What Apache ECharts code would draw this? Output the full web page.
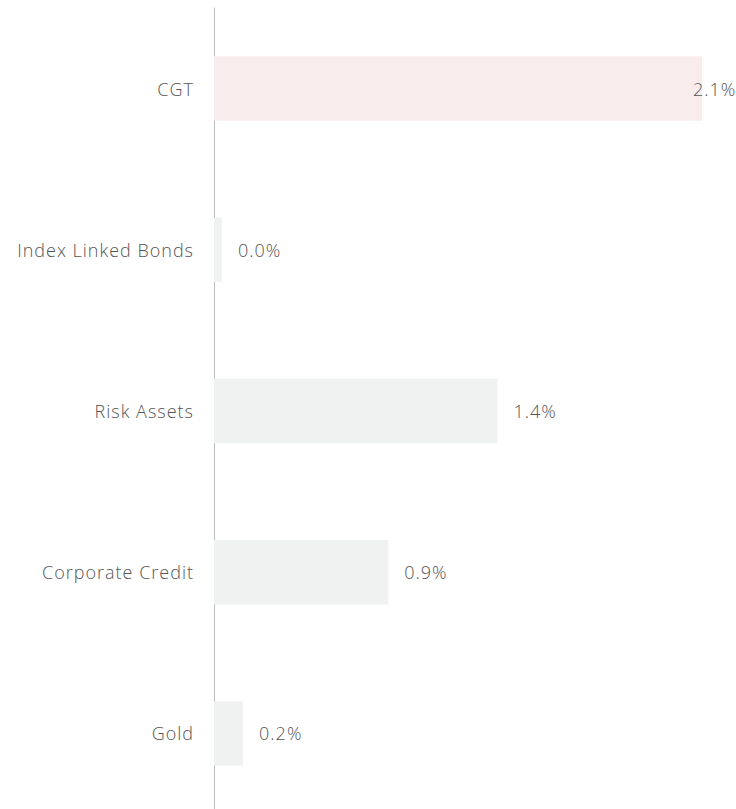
<!DOCTYPE html>
<html>
<head>
<meta charset="utf-8">
<style>html,body{margin:0;padding:0;background:#fff;overflow:hidden;}#c{width:736px;height:820px;}#c text{letter-spacing:1px;}</style>
<script src="https://cdn.jsdelivr.net/npm/echarts@6/dist/echarts.min.js"></script>
</head>
<body>
<div id="c"></div>
<script>
var categories = ['CGT', 'Index Linked Bonds', 'Risk Assets', 'Corporate Credit', 'Gold'];
var barValues = [2.1, 0.034, 1.22, 0.75, 0.125];
var valueLabels = ['2.1%', '0.0%', '1.4%', '0.9%', '0.2%'];
var barColors = ['#f8ecec', '#f0f2f1', '#f0f2f1', '#f0f2f1', '#f0f2f1'];

var chart = echarts.init(document.getElementById('c'), null, { renderer: 'svg' });
var data = barValues.map(function (v, i) {
  var item = { value: v, itemStyle: { color: barColors[i] } };
  if (i === 0) item.label = { offset: [-25, 0] };
  return item;
});
chart.setOption({
  animation: false,
  grid: { left: 214, right: 34, top: 8, bottom: 6, containLabel: false },
  xAxis: { type: 'value', min: 0, max: 2.1, show: false },
  yAxis: {
    type: 'category', data: categories, inverse: true, offset: 1,
    axisLine: { show: true, lineStyle: { color: '#b9bdbc', width: 1 } },
    axisTick: { show: false },
    axisLabel: { margin: 19, color: '#555555', fontSize: 18, fontWeight: 300, fontFamily: 'Open Sans' }
  },
  series: [{
    type: 'bar', data: data, barWidth: '40%',
    label: {
      show: true, position: 'right', distance: 16,
      color: '#555555', fontSize: 18, fontWeight: 300, fontFamily: 'Open Sans',
      formatter: function (p) { return valueLabels[p.dataIndex]; }
    }
  }]
});
</script>
</body>
</html>
